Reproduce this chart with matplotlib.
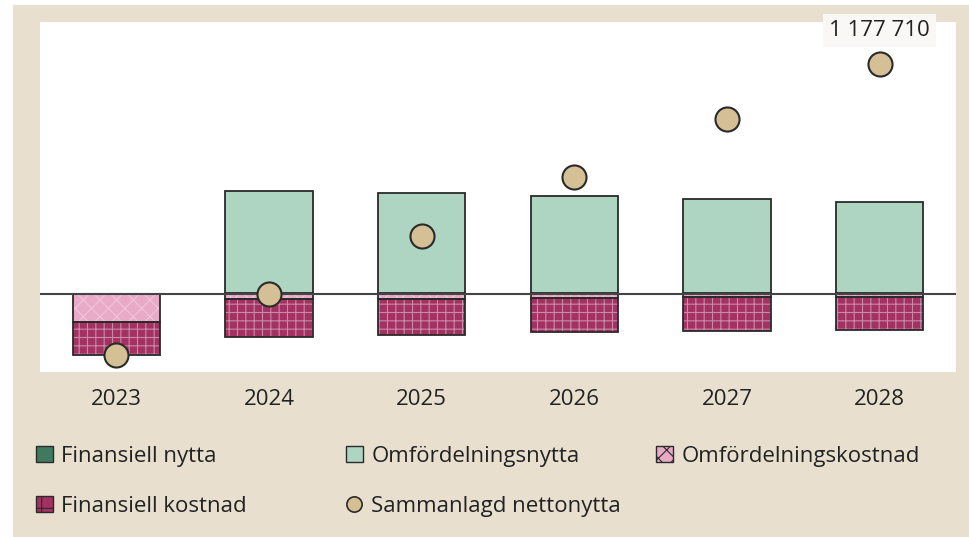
import numpy as np
import matplotlib.pyplot as plt
from matplotlib.patches import Patch
from matplotlib.lines import Line2D

plt.rcParams['font.family'] = ['Open Sans', 'DejaVu Sans']
plt.rcParams['hatch.linewidth'] = 0.8

years = ["2023", "2024", "2025", "2026", "2027", "2028"]
fin_nytta = [0, 5000, 5000, 5000, 5000, 5000]
omf_nytta = [0, 522000, 512000, 497000, 481000, 466000]
omf_kostnad = [-143000, -26000, -28000, -20000, -16000, -15000]
fin_kostnad = [-169000, -195000, -184000, -174000, -174000, -169000]
netto = [-312000, -2000, 297000, 599000, 896000, 1177710]

BG = "#e8dfcf"
C_FN = "#3f7a5f"
C_ON = "#aed4c2"
C_OK = "#e8aac7"
C_FK = "#a33262"
C_DOT = "#d5c096"
EDGE = "#2a2a2a"
FS = 16

fig = plt.figure(figsize=(9.7, 5.37), dpi=100)
fig.patch.set_facecolor("white")
fig.patches.append(plt.Rectangle((13/970, 0), 957/970, 532/537, transform=fig.transFigure,
                                 facecolor=BG, edgecolor="none", zorder=-10))
ax = fig.add_axes([40/970, 1-372/537, 916/970, 350/537])
ax.set_facecolor("white")

x = np.arange(len(years))
w = 0.57

def bars(bottom, vals, color, hatch=None, hcolor=None):
    if hatch:
        ax.bar(x, vals, w, bottom=bottom, color=color, edgecolor=hcolor, hatch=hatch, linewidth=0, zorder=2)
        ax.bar(x, vals, w, bottom=bottom, fill=False, edgecolor=EDGE, linewidth=1.3, zorder=3)
    else:
        ax.bar(x, vals, w, bottom=bottom, color=color, edgecolor=EDGE, linewidth=1.3, zorder=3)

fn = np.array(fin_nytta)
bars(0, fn, C_FN)
bars(fn, omf_nytta, C_ON)
ok = np.array(omf_kostnad)
bars(0, ok, C_OK, "xx", "#f0c6d9")
bars(ok, fin_kostnad, C_FK, "++", "#c98aa6")

ax.axhline(0, color="#444444", lw=1.5, zorder=4)
ax.scatter(x, netto, s=300, color=C_DOT, edgecolor=EDGE, linewidth=1.5, zorder=5)

ax.annotate("1 177 710", (x[-1], netto[-1]), xytext=(0, 24), textcoords="offset points",
            ha="center", va="center", fontsize=FS, color="#222222",
            bbox=dict(boxstyle="square,pad=0.28", facecolor="#faf8f4", edgecolor="none"),
            annotation_clip=False, zorder=6)

ax.set_xlim(-0.5, 5.5)
ax.set_ylim(-399000, 1392000)
ax.set_yticks([])
ax.set_xticks(x)
ax.set_xticklabels(years, fontsize=FS, color="#222222")
ax.tick_params(axis="x", length=0, pad=12)
for s in ax.spines.values():
    s.set_visible(False)

h_fn = Patch(facecolor=C_FN, edgecolor=EDGE, label="Finansiell nytta")
h_fk = Patch(facecolor=C_FK, edgecolor=EDGE, hatch="+", label="Finansiell kostnad")
h_on = Patch(facecolor=C_ON, edgecolor=EDGE, label="Omfördelningsnytta")
h_sn = Line2D([], [], marker="o", ls="none", markersize=11, markerfacecolor=C_DOT,
              markeredgecolor=EDGE, markeredgewidth=1.2, label="Sammanlagd nettonytta")
h_ok = Patch(facecolor=C_OK, edgecolor=EDGE, hatch="xx", label="Omfördelningskostnad")

columns = [([h_fn, h_fk], 27), ([h_on, h_sn], 337), ([h_ok], 647)]
for hs, px in columns:
    leg = fig.legend(handles=hs, loc="upper left", bbox_to_anchor=(px/970, 1-437/537),
                     frameon=False, fontsize=FS, handlelength=0.75, handleheight=0.75,
                     handletextpad=0.4, labelspacing=1.3, borderaxespad=0)
    for t in leg.get_texts():
        t.set_color("#222222")

fig.savefig("out.png", dpi=100, facecolor=fig.get_facecolor())
